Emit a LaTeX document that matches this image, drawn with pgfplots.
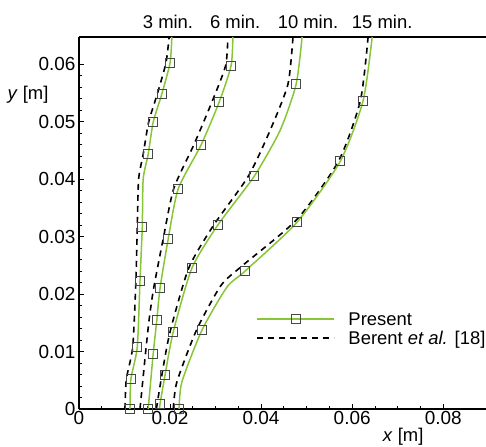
\documentclass[border=0pt]{standalone}
\usepackage{pgfplots}
\pgfplotsset{compat=1.18}
\usepackage{fontspec}
\setmainfont{Liberation Sans}
\definecolor{pgreen}{RGB}{135,198,55}
\definecolor{mgray}{RGB}{70,70,70}
\begin{document}
\begin{tikzpicture}[font=\fontsize{18.5}{21}\selectfont]
\begin{axis}[name=ax, scale only axis, width=407bp, height=372bp,
  xmin=0, xmax=0.0894, ymin=0, ymax=0.0647,
  axis x line=box, axis y line=left, axis line style={-, line width=1.6bp},
  xtick pos=left, ytick pos=left, tick align=inside,
  scaled ticks=false,
  xtick={0,0.02,0.04,0.06,0.08}, xticklabels={0,0.02,0.04,0.06,0.08},
  ytick={0,0.01,0.02,0.03,0.04,0.05,0.06}, yticklabels={0,0.01,0.02,0.03,0.04,0.05,0.06},
  minor x tick num=3, minor y tick num=4,
  major tick length=5bp, minor tick length=3bp,
  tick style={black, line width=0.8bp},
  tick label style={font=\fontsize{19}{21}\selectfont},
  xticklabel style={yshift=1bp},
  clip=false,
  legend image code/.code={\draw[#1] (0bp,0bp) -- (77bp,0bp);},
  legend style={at={(axis cs:0.0389,0.0139)}, anchor=west, draw=none, fill=none, inner sep=0pt,
    font=\fontsize{18.5}{21}\selectfont, row sep=0bp, nodes={inner sep=2bp}},
  legend cell align=left,
]
\addlegendimage{legend image code/.code={%
  \draw[draw=pgreen, solid, line width=2.2bp] (0bp,0.5bp) -- (77bp,0.5bp);
  \draw[draw=mgray, solid, line width=0.9bp, fill=none] (34bp,-4bp) rectangle (43bp,5bp);}}
\addlegendentry{\hspace*{11bp}Present}
\addlegendimage{black, line width=1.6bp, dash pattern=on 6bp off 5bp}
\addlegendentry{\hspace*{11bp}Berent \textit{et al.} [18]}

% ---- Berent et al. (dashed)
\addplot[forget plot, black, line width=1.6bp, dash pattern=on 6bp off 5bp, smooth, tension=0.4] coordinates {
(0.0101,0) (0.0104,0.0052) (0.0118,0.0108) (0.0125,0.0223) (0.0128,0.0317) (0.0131,0.0400) (0.0141,0.0443) (0.0153,0.0499) (0.0172,0.0548) (0.0191,0.0602) (0.0198,0.0647)};
\addplot[forget plot, black, line width=1.6bp, dash pattern=on 6bp off 5bp, smooth, tension=0.4] coordinates {
(0.0134,0) (0.0146,0.0096) (0.0154,0.0155) (0.0164,0.0210) (0.0185,0.0296) (0.0208,0.0383) (0.0252,0.0459) (0.0292,0.0534) (0.0322,0.0597) (0.0327,0.0647)};
\addplot[forget plot, black, line width=1.6bp, dash pattern=on 6bp off 5bp, smooth, tension=0.4] coordinates {
(0.0170,0) (0.0182,0.0059) (0.0200,0.0134) (0.0241,0.0245) (0.0296,0.0320) (0.0372,0.0405) (0.0420,0.0485) (0.0459,0.0565) (0.0470,0.0647)};
\addplot[forget plot, black, line width=1.6bp, dash pattern=on 6bp off 5bp, smooth, tension=0.4] coordinates {
(0.0207,0) (0.0215,0.0047) (0.0258,0.0137) (0.0312,0.0215) (0.0360,0.0250) (0.0479,0.0330) (0.0570,0.0431) (0.0618,0.0536) (0.0635,0.0647)};

% ---- Present (green lines)
\addplot[forget plot, pgreen, line width=1.5bp, smooth, tension=0.4] coordinates {
(0.0112,0) (0.0114,0.0052) (0.0128,0.0108) (0.0134,0.0223) (0.0139,0.0317) (0.0141,0.0400) (0.0152,0.0443) (0.0163,0.0499) (0.0182,0.0548) (0.0200,0.0602) (0.0204,0.0647)};
\addplot[forget plot, pgreen, line width=1.5bp, smooth, tension=0.4] coordinates {
(0.0152,0) (0.0163,0.0096) (0.0171,0.0155) (0.0178,0.0210) (0.0196,0.0296) (0.0218,0.0383) (0.0268,0.0459) (0.0308,0.0534) (0.0334,0.0597) (0.0338,0.0647)};
\addplot[forget plot, pgreen, line width=1.5bp, smooth, tension=0.4] coordinates {
(0.0177,0) (0.0178,0.0009) (0.0189,0.0059) (0.0207,0.0134) (0.0248,0.0245) (0.0305,0.0320) (0.0385,0.0405) (0.0442,0.0485) (0.0477,0.0565) (0.0490,0.0647)};
\addplot[forget plot, pgreen, line width=1.5bp, smooth, tension=0.4] coordinates {
(0.0220,0) (0.0226,0.0047) (0.0270,0.0137) (0.0325,0.0212) (0.0365,0.0240) (0.0479,0.0325) (0.0574,0.0431) (0.0624,0.0536) (0.0644,0.0647)};

% ---- Present (markers)
\addplot[forget plot, only marks, mark=square, mark size=4.5bp, mark options={draw=mgray, line width=0.9bp, fill=none}] coordinates {
(0.0112,0) (0.0114,0.0052) (0.0128,0.0108) (0.0134,0.0223) (0.0139,0.0317) (0.0152,0.0443) (0.0163,0.0499) (0.0182,0.0548) (0.0200,0.0602)
(0.0152,0) (0.0163,0.0096) (0.0171,0.0155) (0.0178,0.0210) (0.0196,0.0296) (0.0218,0.0383) (0.0268,0.0459) (0.0308,0.0534) (0.0334,0.0597)
(0.0178,0.0009) (0.0189,0.0059) (0.0207,0.0134) (0.0248,0.0245) (0.0305,0.0320) (0.0385,0.0405) (0.0477,0.0565)
(0.0220,0) (0.0270,0.0137) (0.0365,0.0240) (0.0479,0.0325) (0.0574,0.0431) (0.0624,0.0536)};

\node at (axis cs:0.01956,0.0673) {3 min.};
\node at (axis cs:0.0343,0.0673) {6 min.};
\node at (axis cs:0.0503,0.0673) {10 min.};
\node at (axis cs:0.0666,0.0673) {15 min.};
\node at (axis cs:0,0.0546) [xshift=-51bp] {\textit{y} [m]};
\node at (axis cs:0.0712,0) [yshift=-28bp] {\textit{x} [m]};
\end{axis}
\pgfresetboundingbox
\path ([shift={(-79bp,-38bp)}]ax.south west) rectangle ([shift={(0bp,37bp)}]ax.north east);
\end{tikzpicture}
\end{document}
